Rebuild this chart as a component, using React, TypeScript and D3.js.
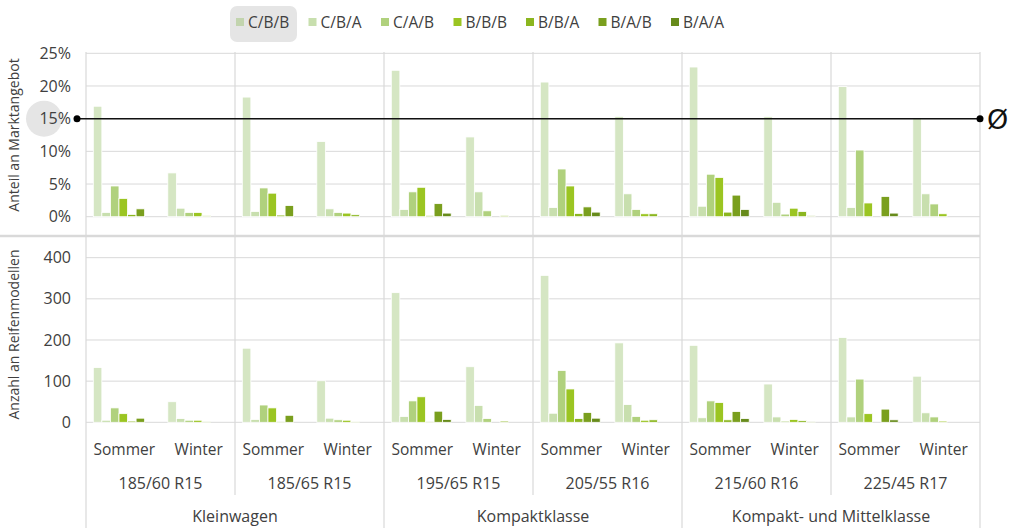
import React from "react";
import * as d3 from "d3";

const seriesNames = ["C/B/B", "C/B/A", "C/A/B", "B/B/B", "B/B/A", "B/A/B", "B/A/A"];
const seriesColors = ["#d5e6c3", "#c8dfae", "#b0d17d", "#9bc522", "#8bb61f", "#7a9f1e", "#678b1b"];

const sizes = ["185/60 R15", "185/65 R15", "195/65 R15", "205/55 R16", "215/60 R16", "225/45 R17"];
const seasons = ["Sommer", "Winter"];
const classes = [
  { name: "Kleinwagen", from: 0, to: 2 },
  { name: "Kompaktklasse", from: 2, to: 4 },
  { name: "Kompakt- und Mittelklasse", from: 4, to: 6 },
];

// share in % per category (size x season)
const shareCBB = [16.9, 6.7, 18.3, 11.5, 22.4, 12.2, 20.6, 15.35, 22.9, 15.3, 19.9, 15.1];
const shareCBA = [0.65, 1.3, 0.8, 1.2, 1.1, 3.8, 1.4, 3.5, 1.6, 2.2, 1.4, 3.5];
const shareCAB = [4.7, 0.65, 4.4, 0.65, 3.8, 0.9, 7.3, 1.1, 6.5, 0.4, 10.2, 1.95];
const shareBBB = [2.8, 0.65, 3.6, 0.55, 4.5, 0, 4.7, 0.45, 6.0, 1.3, 2.1, 0.45];
const shareBBA = [0.35, 0.15, 0.25, 0.3, 0.2, 0.2, 0.5, 0.45, 0.7, 0.8, 0, 0];
const shareBAB = [1.2, 0, 1.7, 0, 2.0, 0, 1.5, 0, 3.3, 0.15, 3.1, 0];
const shareBAA = [0, 0, 0, 0, 0.55, 0, 0.7, 0, 1.1, 0, 0.55, 0];

// number of tyre models
const countCBB = [133, 50, 180, 101, 315, 135, 357, 193, 187, 93, 206, 112];
const countCBA = [5, 9, 7, 10, 14, 41, 22, 43, 11, 13, 13, 23];
const countCAB = [35, 5, 42, 6, 52, 9, 126, 14, 52, 3, 105, 13];
const countBBB = [21, 5, 35, 5, 62, 0, 81, 5, 48, 7, 21, 3];
const countBBA = [3, 1, 1, 2, 1, 3, 9, 6, 6, 4, 0, 0];
const countBAB = [10, 0, 17, 0, 27, 0, 24, 0, 26, 1, 32, 0];
const countBAA = [0, 0, 0, 0, 7, 0, 10, 0, 9, 0, 6, 0];

const shareTicks = [0, 5, 10, 15, 20, 25];
const countTicks = [0, 100, 200, 300, 400];
const averageShare = 15;

const shareSeries = [shareCBB, shareCBA, shareCAB, shareBBB, shareBBA, shareBAB, shareBAA];
const countSeries = [countCBB, countCBA, countCAB, countBBB, countBBA, countBAB, countBAA];

const W = 1009;
const H = 528;
const left = 86;
const right = 980;
const font = "'Open Sans', sans-serif";
const textColor = "#404040";
const grid = "#d9d9d9";

const categories = sizes.flatMap((s) => seasons.map((se) => `${s}|${se}`));

export default function App() {
  const x0 = d3.scaleBand<string>().domain(categories).range([left, right]).padding(0);
  const cw = x0.bandwidth();
  const x1 = d3
    .scaleBand<string>()
    .domain(seriesNames)
    .range([7.3, cw - 7.3])
    .padding(0);
  const bw = x1.bandwidth();

  const yTop = d3.scaleLinear().domain([0, 25]).range([216.7, 53.3]);
  const yBot = d3.scaleLinear().domain([0, 450]).range([422.3, 237.1]);

  const sizeBand = d3.scaleBand<string>().domain(sizes).range([left, right]).padding(0);
  const sw = sizeBand.bandwidth();

  const bars = (series: number[][], y: d3.ScaleLinear<number, number>, key: string) =>
    series.map((vals, si) =>
      vals.map((v, ci) => {
        if (v <= 0) return null;
        const x = (x0(categories[ci]) as number) + (x1(seriesNames[si]) as number);
        return (
          <rect
            key={`${key}-${si}-${ci}`}
            x={x}
            y={y(v)}
            width={bw}
            height={y(0) - y(v)}
            fill={seriesColors[si]}
            stroke="#ffffff"
            strokeWidth={0.8}
          />
        );
      })
    );

  const legendStep = 72.5;
  const legendX0 = 236;

  return (
    <svg
      width={W}
      height={H}
      style={{ position: "absolute", left: 0, top: 0, background: "#fff" }}
      fontFamily={font}
    >
      {/* legend */}
      <rect x={230} y={6} width={67} height={36} rx={7} fill="#e5e5e5" />
      {seriesNames.map((n, i) => (
        <g key={n} transform={`translate(${legendX0 + i * legendStep},0)`}>
          <rect x={0} y={18} width={8} height={8} fill={i === 0 ? "#c2d4ae" : seriesColors[i]} />
          <text x={12} y={28} fontSize={15.5} fill={textColor}>
            {n}
          </text>
        </g>
      ))}

      {/* top panel gridlines */}
      {shareTicks.map((t) => (
        <line key={`gt${t}`} x1={left} x2={right} y1={yTop(t)} y2={yTop(t)} stroke={grid} strokeWidth={1} />
      ))}
      {/* bottom panel gridlines */}
      {countTicks.map((t) => (
        <line key={`gb${t}`} x1={left} x2={right} y1={yBot(t)} y2={yBot(t)} stroke={grid} strokeWidth={1} />
      ))}
      {/* panel separator */}
      <line x1={0} x2={right} y1={236} y2={236} stroke={grid} strokeWidth={2.5} />

      {/* vertical size separators */}
      {sizes.map((s, i) => {
        const x = sizeBand(s) as number;
        const isClass = classes.some((c) => c.from === i);
        return (
          <line key={`vs${s}`} x1={x} x2={x} y1={52} y2={isClass ? 528 : 495} stroke={grid} strokeWidth={1.2} />
        );
      })}
      <line x1={right} x2={right} y1={52} y2={528} stroke={grid} strokeWidth={1.2} />

      {/* bars */}
      {bars(shareSeries, yTop, "s")}
      {bars(countSeries, yBot, "c")}

      {/* average line */}
      <line x1={77} x2={right} y1={yTop(averageShare)} y2={yTop(averageShare)} stroke="#111" strokeWidth={1.5} />
      <circle cx={77} cy={yTop(averageShare)} r={3.5} fill="#000" />
      <circle cx={right} cy={yTop(averageShare)} r={3.5} fill="#000" />
      <text x={987} y={yTop(averageShare) + 10} fontSize={27} fill="#111" fontFamily="'DejaVu Sans', sans-serif">
        Ø
      </text>

      {/* y tick labels top */}
      <circle cx={44} cy={yTop(15)} r={18} fill="#e5e5e5" />
      {shareTicks.map((t) => (
        <text key={`lt${t}`} x={71} y={yTop(t)} dy="0.35em" textAnchor="end" fontSize={16} fill={textColor}>
          {`${t}%`}
        </text>
      ))}
      {countTicks.map((t) => (
        <text key={`lb${t}`} x={71} y={yBot(t)} dy="0.35em" textAnchor="end" fontSize={16} fill={textColor}>
          {t}
        </text>
      ))}

      {/* axis titles */}
      <text
        transform={`translate(19,${(53 + 217) / 2}) rotate(-90)`}
        textAnchor="middle"
        fontSize={14}
        fill={textColor}
      >
        Anteil an Marktangebot
      </text>
      <text
        transform={`translate(19,${(237 + 432) / 2}) rotate(-90)`}
        textAnchor="middle"
        fontSize={14}
        fill={textColor}
      >
        Anzahl an Reifenmodellen
      </text>

      {/* x labels */}
      {categories.map((c) => (
        <text
          key={`xc${c}`}
          x={(x0(c) as number) + cw / 2 + 1}
          y={455}
          textAnchor="middle"
          fontSize={15.5}
          fill={textColor}
        >
          {c.split("|")[1]}
        </text>
      ))}
      {sizes.map((s) => (
        <text key={`xs${s}`} x={(sizeBand(s) as number) + sw / 2} y={489} textAnchor="middle" fontSize={16} fill={textColor}>
          {s}
        </text>
      ))}
      {classes.map((c) => (
        <text
          key={`xk${c.name}`}
          x={(sizeBand(sizes[c.from]) as number) + (sw * (c.to - c.from)) / 2}
          y={522}
          textAnchor="middle"
          fontSize={16}
          fill={textColor}
        >
          {c.name}
        </text>
      ))}
    </svg>
  );
}
